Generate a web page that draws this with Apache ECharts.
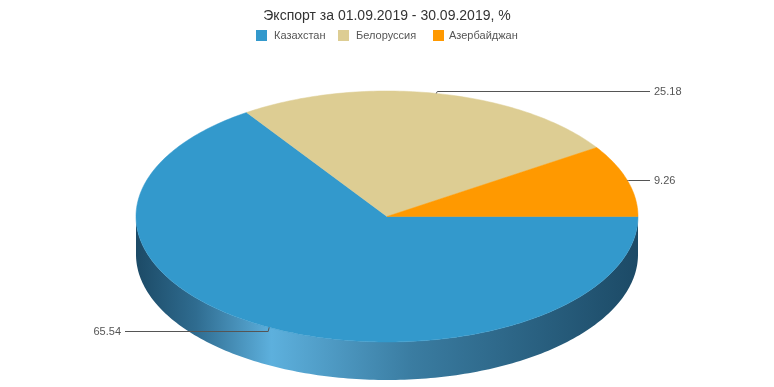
<!DOCTYPE html>
<html>
<head>
<meta charset="utf-8">
<script src="https://cdn.jsdelivr.net/npm/echarts@6/dist/echarts.min.js"></script>
<style>
html,body{margin:0;padding:0;background:#fff;}
#chart{width:774px;height:387px;}
</style>
</head>
<body>
<div id="chart"></div>
<script>
const titleText = 'Экспорт за 01.09.2019 - 30.09.2019, %';
const categories = ['Казахстан', 'Белоруссия', 'Азербайджан'];
const values = [65.54, 25.18, 9.26];
const colors = ['#3399cc', '#ddcd93', '#ff9900'];

const chart = echarts.init(document.getElementById('chart'), null, {renderer: 'canvas'});

// layout (geometry of the 3D pie)
const CX = 387, CY = 216.5, RX = 251, RY = 125.5, DEPTH = 38;
const legendLefts = [256, 338, 433];
const legendTextPad = [2, 2, 0];
const FONT = 'Liberation Sans, Arial, sans-serif';

const total = values.reduce((a, b) => a + b, 0);
const cum = [0];
values.forEach((v, i) => cum.push(cum[i] + v));

function arc(a0, a1, yOff) {
  const pts = [];
  const n = Math.max(2, Math.ceil(Math.abs(a1 - a0) / (Math.PI * 2) * 360));
  for (let k = 0; k <= n; k++) {
    const a = a0 + (a1 - a0) * k / n;
    pts.push([CX + RX * Math.cos(a), CY + yOff + RY * Math.sin(a)]);
  }
  return pts;
}

function sideGradient() {
  return new echarts.graphic.LinearGradient(CX - RX, 0, CX + RX, 0, [
    {offset: 0, color: '#1c4a66'},
    {offset: 0.12, color: '#2f6c90'},
    {offset: 0.27, color: '#5db0dd'},
    {offset: 0.55, color: '#3a7ca1'},
    {offset: 1, color: '#1c4a66'}
  ], true);
}

function makeRender(idx) {
  return function (params, api) {
    const s = cum[idx] / total * Math.PI * 2;
    const e = cum[idx + 1] / total * Math.PI * 2;
    const children = [];
    // visible front wall
    const a = Math.max(s, 0), b = Math.min(e, Math.PI);
    if (b > a) {
      const top = arc(a, b, 0);
      const bot = arc(b, a, DEPTH);
      children.push({
        type: 'polygon', z2: 1,
        shape: {points: top.concat(bot)},
        style: {fill: sideGradient(), stroke: null}
      });
    }
    // top face
    children.push({
      type: 'polygon', z2: 10,
      shape: {points: [[CX, CY]].concat(arc(s, e, 0))},
      style: {fill: colors[idx], stroke: colors[idx], lineWidth: 0.5}
    });
    // label
    const m = (s + e) / 2;
    const sn = Math.sin(m);
    const px = CX + RX * Math.cos(m), py = CY + RY * sn;
    const right = Math.cos(m) >= 0;
    const ly = Math.round(py + sn * (sn > 0 ? 3.8 : 2.2)) + 0.5;
    const endX = right ? CX + RX + 12 : CX - RX - 11;
    children.push({
      type: 'polyline', z2: 20,
      shape: {points: [[px, py], [px + (right ? 1 : -1), ly], [endX, ly]]},
      style: {stroke: '#555', lineWidth: 1, fill: null}
    });
    children.push({
      type: 'text', z2: 20,
      x: right ? endX + 4 : endX - 4, y: ly,
      style: {
        text: values[idx].toFixed(2),
        fill: '#555', fontSize: 11, fontFamily: FONT,
        align: right ? 'left' : 'right', verticalAlign: 'middle'
      }
    });
    return {type: 'group', children: children};
  };
}

const series = categories.map((name, i) => ({
  type: 'custom',
  name: name,
  coordinateSystem: 'none',
  itemStyle: {color: colors[i]},
  data: [[values[i]]],
  renderItem: makeRender(i),
  silent: true
}));

const legends = categories.map((name, i) => ({
  left: legendLefts[i], top: 30, padding: 0, icon: 'rect',
  itemWidth: 11, itemHeight: 11,
  textStyle: {fontSize: 11, color: '#555', fontFamily: FONT, padding: [0, 0, 0, legendTextPad[i]]},
  data: [name]
}));

chart.setOption({
  animation: false,
  title: {
    text: titleText, left: 'center', top: 4,
    textStyle: {fontSize: 14, fontWeight: 'normal', color: '#333', fontFamily: FONT}
  },
  legend: legends,
  series: series
});
</script>
</body>
</html>
